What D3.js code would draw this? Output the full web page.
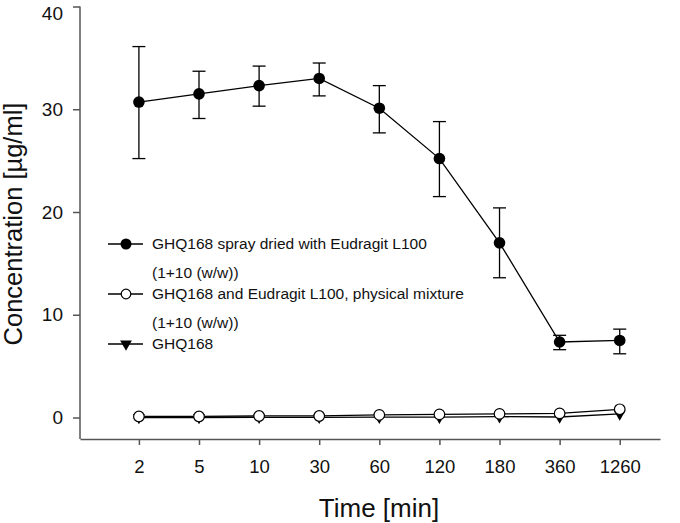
<!DOCTYPE html>
<html><head><meta charset="utf-8">
<script src="https://cdn.jsdelivr.net/npm/d3@7"></script>
<style>body{margin:0;background:#fff}svg{display:block}text{font-family:"Liberation Sans",Arial,sans-serif}</style>
</head><body><svg id="c" width="680" height="523"></svg>
<script>
const timeLabels = ["2","5","10","30","60","120","180","360","1260"];
const sprayMean = [30.7, 31.5, 32.3, 33.0, 30.1, 25.2, 17.0, 7.35, 7.5];
const sprayUpper = [36.1, 33.7, 34.2, 34.5, 32.3, 28.8, 20.4, 8.0, 8.6];
const sprayLower = [25.2, 29.1, 30.3, 31.3, 27.7, 21.5, 13.6, 6.6, 6.2];
const mixMean = [0.1, 0.1, 0.15, 0.15, 0.25, 0.3, 0.35, 0.4, 0.8];
const pureMean = [0.0, 0.0, 0.02, 0.02, 0.03, 0.03, 0.08, 0.05, 0.35];
const yTicks = [0, 10, 20, 30, 40];
const legendLabels = ["GHQ168 spray dried with Eudragit L100", "GHQ168 and Eudragit L100, physical mixture", "GHQ168"];
const legendSub = ["(1+10 (w/w))", "(1+10 (w/w))"];

const svg = d3.select("#c");
const x = d3.scaleLinear().domain([-0.98, 8.67]).range([80, 660]);
const y = d3.scaleLinear().domain([0, 40]).range([417.5, 6.5]);
const yBottom = 439;
const axisColor = "#555";

// axes
const yAxis = svg.append("g").attr("transform","translate(80,0)")
  .call(d3.axisLeft(y).tickValues(yTicks).tickSize(7).tickPadding(10).tickSizeOuter(0));
yAxis.select(".domain").attr("d", `M0,${y(40)}V${yBottom}`);
yAxis.selectAll("text").attr("font-size", 19).attr("fill","#111").attr("font-family","Liberation Sans, Arial");
yAxis.selectAll(".tick").filter(d=>d===40).select("text").attr("dy","0.66em");
const xAxis = svg.append("g").attr("transform",`translate(0,${yBottom})`)
  .call(d3.axisBottom(x).tickValues(d3.range(timeLabels.length)).tickFormat(i=>timeLabels[i]).tickSize(6).tickPadding(15).tickSizeOuter(0));
xAxis.selectAll("text").attr("font-size", 18.5).attr("fill","#111").attr("font-family","Liberation Sans, Arial");
[yAxis, xAxis].forEach(a=>{a.selectAll("line,path").attr("stroke",axisColor).attr("stroke-width",1.5);});

svg.append("text").attr("transform","translate(22,224) rotate(-90)").attr("text-anchor","middle")
  .attr("font-size",25.5).attr("fill","#111").text("Concentration [µg/ml]");
svg.append("text").attr("x",379).attr("y",517).attr("text-anchor","middle")
  .attr("font-size",26).attr("fill","#111").text("Time [min]");

const idx = d3.range(timeLabels.length);
const line = d3.line().x(d=>x(d[0])).y(d=>y(d[1]));

// pure & mix lines
svg.append("path").attr("d", line(idx.map(i=>[i,pureMean[i]]))).attr("fill","none").attr("stroke","#000").attr("stroke-width",1.3);
svg.append("path").attr("d", line(idx.map(i=>[i,mixMean[i]]))).attr("fill","none").attr("stroke","#000").attr("stroke-width",1.3);
const tri = d3.symbol().type(d3.symbolTriangle).size(60);
idx.forEach(i=>{
  svg.append("path").attr("d",tri()).attr("transform",`translate(${x(i)},${y(pureMean[i])}) rotate(180)`).attr("fill","#000");
});
idx.forEach(i=>{
  svg.append("circle").attr("cx",x(i)).attr("cy",y(mixMean[i])).attr("r",5.3).attr("fill","#fff").attr("stroke","#000").attr("stroke-width",1.2);
});

// spray dried with error bars
svg.append("path").attr("d", line(idx.map(i=>[i,sprayMean[i]]))).attr("fill","none").attr("stroke","#000").attr("stroke-width",1.3);
idx.forEach(i=>{
  const cx = x(i), cw = 6.5;
  const g = svg.append("g").attr("stroke","#000").attr("stroke-width",1.3);
  g.append("line").attr("x1",cx).attr("x2",cx).attr("y1",y(sprayUpper[i])).attr("y2",y(sprayLower[i]));
  g.append("line").attr("x1",cx-cw).attr("x2",cx+cw).attr("y1",y(sprayUpper[i])).attr("y2",y(sprayUpper[i]));
  g.append("line").attr("x1",cx-cw).attr("x2",cx+cw).attr("y1",y(sprayLower[i])).attr("y2",y(sprayLower[i]));
  svg.append("circle").attr("cx",cx).attr("cy",y(sprayMean[i])).attr("r",5.8).attr("fill","#000");
});

// legend
const lg = svg.append("g");
const rows = [244, 294, 344];
rows.forEach((ry,k)=>{
  lg.append("line").attr("x1",108).attr("x2",143).attr("y1",ry).attr("y2",ry).attr("stroke","#000").attr("stroke-width",1.3);
  if(k===0) lg.append("circle").attr("cx",126).attr("cy",ry).attr("r",5.5).attr("fill","#000");
  if(k===1) lg.append("circle").attr("cx",126).attr("cy",ry).attr("r",4.8).attr("fill","#fff").attr("stroke","#000").attr("stroke-width",1.2);
  if(k===2) lg.append("path").attr("d",tri()).attr("transform",`translate(126,${ry}) rotate(180)`).attr("fill","#000");
  lg.append("text").attr("x",152).attr("y",ry+5).attr("font-size",15.5).attr("fill","#111").text(legendLabels[k]);
  if(k<2) lg.append("text").attr("x",152).attr("y",ry+34).attr("font-size",15.5).attr("fill","#111").text(legendSub[k]);
});
</script></body></html>
